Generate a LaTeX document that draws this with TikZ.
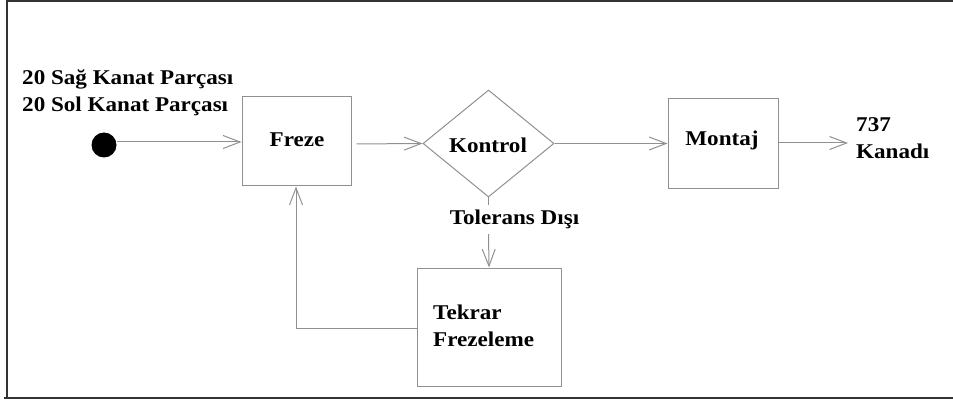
\documentclass[tikz,border=0pt]{standalone}
\usepackage{fontspec}
\setmainfont{Liberation Serif}[FakeStretch=1.1]
\usetikzlibrary{arrows.meta,shapes.geometric}
\definecolor{linegray}{HTML}{909090}
\definecolor{framegray}{HTML}{333333}
\tikzset{
  box/.style={draw=linegray,line width=1pt,rectangle,minimum width=#1,inner sep=0pt},
  lbl/.style={font=\fontsize{21}{27}\selectfont\bfseries,inner sep=0pt,align=left},
  arr/.style={draw=linegray,line width=1pt,-{Straight Barb[length=17pt,width=13pt,line width=1pt]}},
  ln/.style={draw=linegray,line width=1pt},
  frame/.style={draw=framegray,line width=2pt}
}
\begin{document}
\begin{tikzpicture}[x=1pt,y=-1pt]
\useasboundingbox (0,0) rectangle (953,406);
% frame
\draw[frame] (953,1) -- (7,1) -- (7,398);
\draw[frame] (4,398) -- (953,398);
% nodes
\node[circle,fill=black,minimum size=25pt,inner sep=0pt] (start) at (104,145) {};
\node[lbl,anchor=west] (inp) at (22,93) {20 Sağ Kanat Parçası\\20 Sol Kanat Parçası};
\node[box=109pt,minimum height=89pt] (freze) at (296.5,141.5) {};
\node[lbl] (frezet) at (297,140) {Freze};
\node[draw=linegray,line width=1pt,diamond,minimum width=131pt,minimum height=107pt,inner sep=0pt] (kontrol) at (488.5,143.5) {};
\node[lbl] (kontrolt) at (488,145) {Kontrol};
\node[box=110pt,minimum height=90pt] (montaj) at (723,144) {};
\node[lbl] (montajt) at (722,140) {Montaj};
\node[lbl,anchor=west] (out) at (856,138) {737\\Kanadı};
\coordinate (outp) at (848,143);
\node[lbl,inner ysep=5pt] (tol) at (514.5,219.5) {Tolerans Dışı};
\node[box=144pt,minimum height=118pt] (tekrar) at (489,327) {};
\node[lbl,anchor=west] (tekrart) at (433,325.5) {Tekrar\\Frezeleme};
% connectors
\draw[arr] (start.east |- 0,142) -- (freze.west |- 0,142);
\draw[arr,shorten <=5pt] (freze.east |- 0,144) -- (kontrol.west);
\draw[arr] (kontrol.east) -- (montaj.west |- kontrol.east);
\draw[arr] (montaj.east |- outp) -- (outp);
\draw[ln] (kontrol.south) -- (kontrol.south |- tol.north);
\draw[arr] (kontrol.south |- tol.south) -- (tekrar.north);
\draw[arr] (tekrar.west |- 0,328) -| (freze.south -| 296,0);
\end{tikzpicture}
\end{document}
